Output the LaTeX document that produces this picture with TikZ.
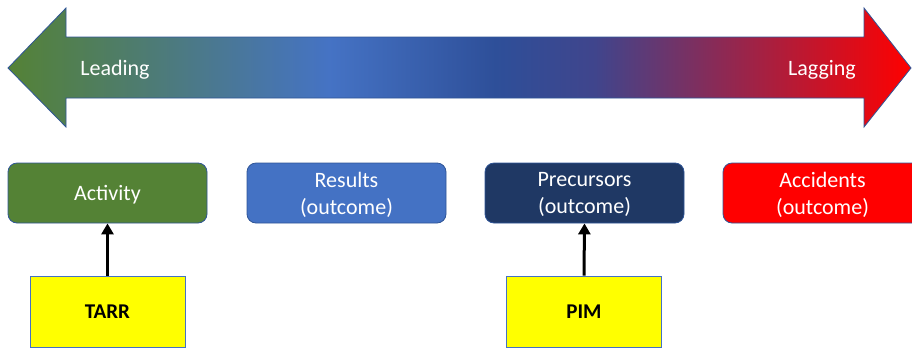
\documentclass[tikz,border=0pt]{standalone}
\usepackage{fontspec}
\setmainfont{Carlito}
\usetikzlibrary{arrows.meta}

\definecolor{actgreen}{RGB}{84,130,53}
\definecolor{resblue}{RGB}{68,114,196}
\definecolor{prenavy}{RGB}{31,56,100}
\definecolor{accred}{RGB}{255,0,0}
\definecolor{edgeblue}{RGB}{47,85,151}
\definecolor{tagyellow}{RGB}{255,255,0}

% green -> blue -> navy -> red along the big arrow
\pgfdeclarehorizontalshading{leadlag}{100bp}{%
  rgb(0bp)=(0.33,0.51,0.21); rgb(25bp)=(0.33,0.51,0.21);
  rgb(42.8bp)=(0.27,0.45,0.77); rgb(52bp)=(0.18,0.31,0.6);
  rgb(57.5bp)=(0.25,0.27,0.55); rgb(75bp)=(1,0,0); rgb(100bp)=(1,0,0)}

\tikzset{
  stage/.style={draw=edgeblue, line width=0.8pt, rounded corners=9pt,
    minimum width=199pt, minimum height=60pt, text=white, align=center,
    text depth=0pt, font=\fontsize{22}{27}\selectfont},
  tag/.style={draw=resblue, line width=0.8pt, fill=tagyellow,
    minimum width=155pt, minimum height=71pt,
    font=\fontsize{21}{24}\selectfont\bfseries},
  feeds/.style={line width=3pt, -{Triangle[length=11pt,width=12pt]}},
  side/.style={text=white, text depth=0pt, font=\fontsize{22}{26}\selectfont}
}

\begin{document}
\begin{tikzpicture}[x=1pt, y=-1pt]
\useasboundingbox (0,0) rectangle (912,349);

% the leading / lagging arrow
\shadedraw[shading=leadlag, draw=edgeblue, line width=0.8pt]
  (8,68) -- (66,8) -- (66,37) -- (864,37) -- (864,8) -- (911,68)
  -- (864,127) -- (864,98) -- (66,98) -- (66,127) -- cycle;
\node[side] (lead) at (115,68) {Leading};
\node[side] (lag)  at (822,68) {Lagging};

% indicator stages
\node[stage, fill=actgreen] (act) at (107.5,193)  {Activity};
\node[stage, fill=resblue]  (res) at (346.5,193)  {Results\\(outcome)};
\node[stage, fill=prenavy]  (pre) at (584.5,193)  {Precursors\\(outcome)};
\node[stage, fill=accred]   (acc) at (822.5,193)  {Accidents\\(outcome)};

% measures
\node[tag] (tarr) at (107.5,311.5) {TARR};
\node[tag] (pim)  at (584,311.5)   {PIM};

\draw[feeds] (tarr.north) -- (act.south);
\draw[feeds] (pim.north)  -- (pre.south);
\end{tikzpicture}
\end{document}
